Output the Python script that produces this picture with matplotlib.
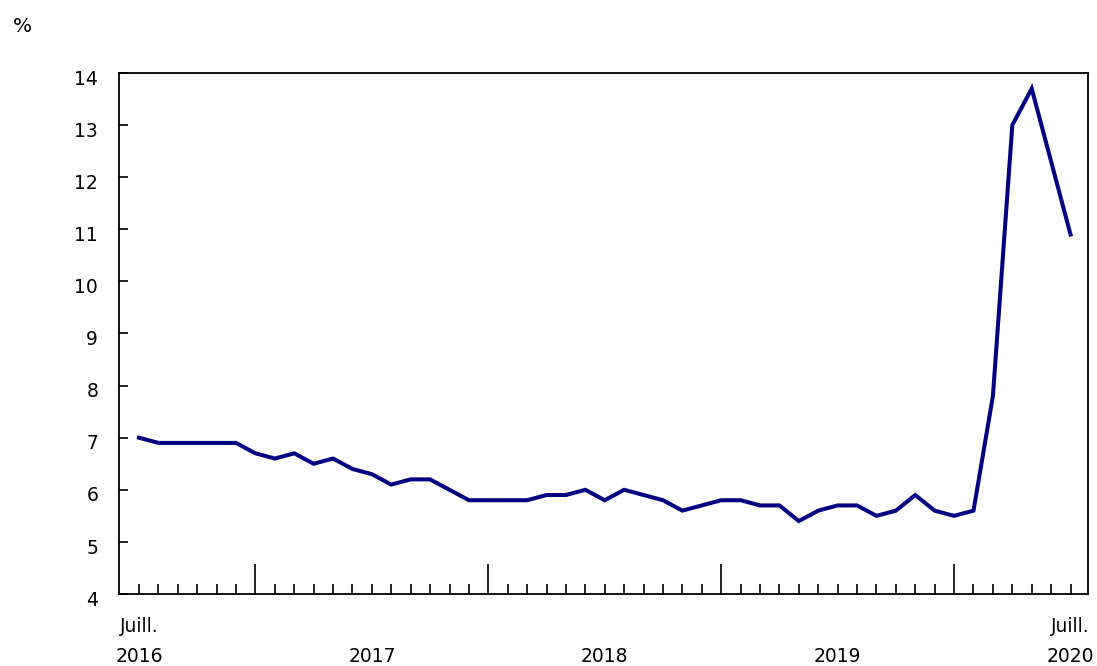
import matplotlib
matplotlib.use("Agg")
import matplotlib.pyplot as plt
import matplotlib.transforms as mtransforms

plt.rcParams['font.family'] = ['DejaVu Sans']

months_index = list(range(49))  # July 2016 .. July 2020
values = [7.0, 6.9, 6.9, 6.9, 6.9, 6.9,
          6.7, 6.6, 6.7, 6.5, 6.6, 6.4, 6.3, 6.1, 6.2, 6.2, 6.0, 5.8,
          5.8, 5.8, 5.8, 5.9, 5.9, 6.0, 5.8, 6.0, 5.9, 5.8, 5.6, 5.7,
          5.8, 5.8, 5.7, 5.7, 5.4, 5.6, 5.7, 5.7, 5.5, 5.6, 5.9, 5.6,
          5.5, 5.6, 7.8, 13.0, 13.7, 12.3, 10.9]
year_ticks = [6, 18, 30, 42]
label_positions = [0, 12, 24, 36, 48]
label_texts = ["Juill.\n2016", "2017", "2018", "2019", "Juill.\n2020"]
y_ticks = [4, 5, 6, 7, 8, 9, 10, 11, 12, 13, 14]

FS = 13.5

fig = plt.figure(figsize=(10.97, 6.66), dpi=100)
ax = fig.add_axes([119/1097, 1 - 594/666, (1088-119)/1097, (594-73)/666])

ax.plot(months_index, values, color='#000080', linewidth=2.9, solid_joinstyle='miter')

ax.set_xlim(-1.03, 48.9)
ax.set_ylim(4, 14)
ax.set_yticks(y_ticks)
ax.set_yticklabels([str(t) for t in y_ticks], fontsize=FS)
ax.tick_params(axis='y', direction='in', length=6.7, width=1.2, pad=15, color='black')
offset = mtransforms.ScaledTranslation(0, -3/72, fig.dpi_scale_trans)
for lab in ax.get_yticklabels():
    lab.set_transform(lab.get_transform() + offset)

minor = [m for m in months_index if m not in year_ticks]
ax.set_xticks(year_ticks)
ax.set_xticks(minor, minor=True)
ax.set_xticklabels([])
ax.tick_params(axis='x', which='major', direction='in', length=21.5, width=1.2)
ax.tick_params(axis='x', which='minor', direction='in', length=7.2, width=1.2)

for s in ax.spines.values():
    s.set_linewidth(1.3)
    s.set_color('black')

trans = mtransforms.blended_transform_factory(ax.transData, fig.transFigure)
for pos, txt in zip(label_positions, label_texts):
    lines = txt.split("\n")
    if len(lines) == 2:
        ax.text(pos, 1 - 627/666, lines[0], transform=trans, ha='center', va='center', fontsize=FS)
        ax.text(pos, 1 - 657/666, lines[1], transform=trans, ha='center', va='center', fontsize=FS)
    else:
        ax.text(pos, 1 - 657/666, lines[0], transform=trans, ha='center', va='center', fontsize=FS)

fig.text(22/1097, 1 - 27/666, "%", ha='center', va='center', fontsize=14.5)

fig.savefig("out.png", dpi=100)
